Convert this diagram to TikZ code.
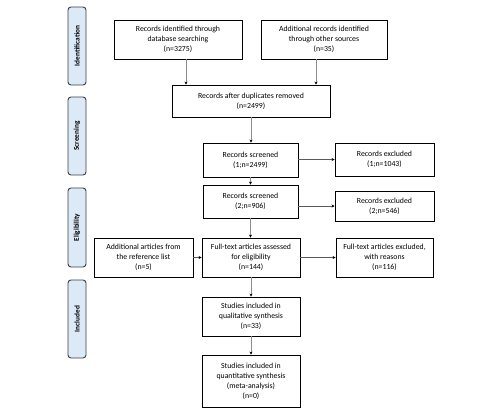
\documentclass[tikz,border=0pt]{standalone}
\usepackage{fontspec}
\setmainfont{Carlito}
\usetikzlibrary{arrows.meta}
\definecolor{sidefill}{HTML}{DCEAF8}
\definecolor{sidedraw}{HTML}{3A3F48}
\definecolor{linegrey}{HTML}{8C8C8C}
\begin{document}
\begin{tikzpicture}[x=1pt,y=-1pt,
  box/.style={draw=black,line width=0.9pt,fill=white,align=center,inner sep=1pt,
    font=\fontsize{7.8}{10}\selectfont},
  side/.style={draw=sidedraw,line width=0.9pt,fill=sidefill,rounded corners=3pt,
    minimum width=18pt,minimum height=78pt,inner sep=0pt},
  sidetext/.style={rotate=90,font=\fontsize{7.3}{8}\selectfont\bfseries},
  arr/.style={draw=linegrey,line width=1pt,-{Stealth[length=3pt,width=3pt,color=black]}},
  harr/.style={draw=black!65,line width=0.8pt,-{Stealth[length=3pt,width=3pt,color=black]}}]
\useasboundingbox (0,0) rectangle (500,418);
% side labels
\node[side] (sid) at (77,46) {};
\node[sidetext] (tid) at (sid) {Identification};
\node[side] (ssc) at (77,136) {};
\node[sidetext] (tsc) at (ssc) {Screening};
\node[side,minimum height=79pt] (sel) at (77,227.5) {};
\node[sidetext] (tel) at (sel) {Eligibility};
\node[side] (sin) at (77,319) {};
\node[sidetext] (tin) at (sin) {Included};
% boxes
\node[box,minimum width=128pt,minimum height=39pt] (id1) at (178,39.5) {Records identified through\\database searching\\(n=3275)};
\node[box,minimum width=126pt,minimum height=39pt] (id2) at (324,39.5) {Additional records identified\\through other sources\\(n=35)};
\node[box,minimum width=158pt,minimum height=32pt] (dup) at (251,101) {Records after duplicates removed\\(n=2499)};
\node[box,minimum width=95pt,minimum height=34pt] (scr1) at (250.5,160) {Records screened\\(1;n=2499)};
\node[box,minimum width=99pt,minimum height=33pt] (exc1) at (384.5,159.5) {Records excluded\\(1;n=1043)};
\node[box,minimum width=95pt,minimum height=33pt] (scr2) at (250.5,201.5) {Records screened\\(2;n=906)};
\node[box,minimum width=99pt,minimum height=30pt] (exc2) at (384.5,206) {Records excluded\\(2;n=546)};
\node[box,minimum width=99pt,minimum height=39pt] (add) at (143.5,257.5) {Additional articles from\\the reference list\\(n=5)};
\node[box,minimum width=98pt,minimum height=39pt] (ft) at (251,257.5) {Full-text articles assessed\\for eligibility\\(n=144)};
\node[box,minimum width=97pt,minimum height=39pt] (ftex) at (384.5,257.5) {Full-text articles excluded,\\with reasons\\(n=116)};
\node[box,minimum width=98pt,minimum height=39pt] (qual) at (251,316.5) {Studies included in\\qualitative synthesis\\(n=33)};
\node[box,minimum width=98pt,minimum height=52pt] (quant) at (251,381) {Studies included in\\quantitative synthesis\\(meta-analysis)\\(n=0)};
% connectors
\draw[arr] ([xshift=8pt]id1.south) -- ([xshift=8pt]id1.south |- dup.north);
\draw[arr] ([xshift=-8pt]id2.south) -- ([xshift=-8pt]id2.south |- dup.north);
\draw[arr] (dup.south) -- (dup.south |- scr1.north);
\draw[arr] (scr1.south) -- (scr1.south |- scr2.north);
\draw[arr] (scr2.south) -- (scr2.south |- ft.north);
\draw[arr] (ft.south) -- (ft.south |- qual.north);
\draw[arr] (qual.south) -- (qual.south |- quant.north);
\draw[harr] (scr1.east |- exc1.west) -- (exc1.west);
\draw[harr] (scr2.east |- exc2.west) -- (exc2.west);
\draw[harr] (add.east) -- (ft.west);
\draw[harr] (ft.east) -- (ftex.west);
\end{tikzpicture}
\end{document}
